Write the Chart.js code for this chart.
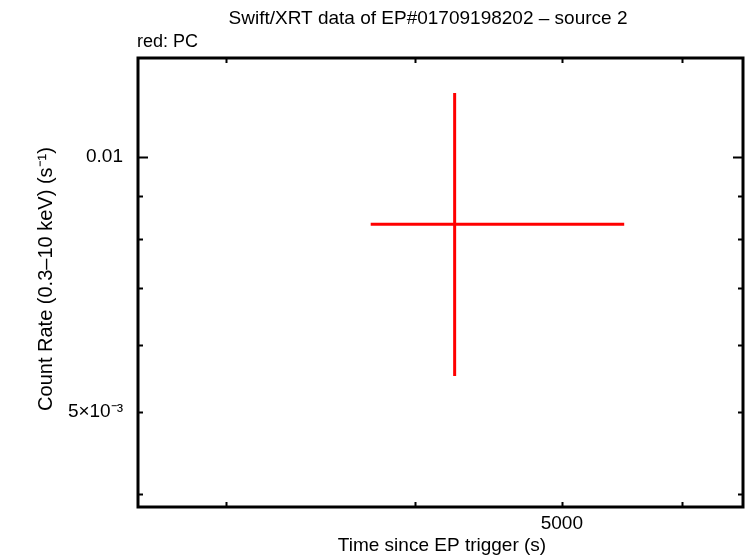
<!DOCTYPE html>
<html><head><meta charset="utf-8">
<script src="https://cdn.jsdelivr.net/npm/chart.js@4/dist/chart.umd.min.js"></script>
<style>html,body{margin:0;padding:0;background:#fff}#wrap{width:746px;height:558px}</style>
</head><body><div id="wrap"><canvas id="c" width="746" height="558"></canvas></div>
<script>
const titleText = 'Swift/XRT data of EP#01709198202 \u2013 source 2';
const subtitleText = 'red: PC';
const xTitle = 'Time since EP trigger (s)';
const yTitle = 'Count Rate (0.3\u201310 keV) (s\u207B\u00B9)';
const times = [4248];
const timeLo = [3739];
const timeHi = [5497];
const rates = [0.00833];
const rateLo = [0.005513];
const rateHi = [0.0119];
const xTickValues = [3000, 4000, 5000, 6000];
const xTickLabels = {5000: '5000'};
const yTickValues = [0.004, 0.005, 0.006, 0.007, 0.008, 0.009, 0.01];
const yTickLabels = {0.005: '5\u00D710\u207B\u00B3', 0.01: '0.01'};
const yMajorTicks = [0.01];
const xRange = [2625, 6585];
const yRange = [0.003862, 0.01309];

const FONT = '"Liberation Sans", Arial, Helvetica, sans-serif';
const RED = '#ff0000';

const datasets = [];
times.forEach((t, i) => {
  datasets.push({data: [{x: timeLo[i], y: rates[i]}, {x: timeHi[i], y: rates[i]}]});
  datasets.push({data: [{x: t, y: rateLo[i]}, {x: t, y: rateHi[i]}]});
});
datasets.forEach(d => Object.assign(d, {showLine: true, borderColor: RED, borderWidth: 3, pointRadius: 0, borderCapStyle: 'butt'}));

const framePlugin = {
  id: 'frame',
  afterDraw(chart) {
    const ctx = chart.ctx, a = chart.chartArea;
    const xs = chart.scales.x, ys = chart.scales.y;
    ctx.save();
    ctx.strokeStyle = '#000';
    ctx.lineWidth = 2;
    ctx.beginPath();
    xTickValues.forEach(v => {
      const px = Math.round(xs.getPixelForValue(v)) + 0.5;
      ctx.moveTo(px, a.bottom); ctx.lineTo(px, a.bottom - 5);
      ctx.moveTo(px, a.top); ctx.lineTo(px, a.top + 5);
    });
    yTickValues.forEach(v => {
      const py = Math.round(ys.getPixelForValue(v)) + 0.5;
      const len = yMajorTicks.includes(v) ? 10 : 5;
      ctx.moveTo(a.left, py); ctx.lineTo(a.left + len, py);
      ctx.moveTo(a.right, py); ctx.lineTo(a.right - len, py);
    });
    ctx.stroke();
    ctx.lineWidth = 3;
    ctx.strokeRect(a.left, a.top, a.right - a.left, a.bottom - a.top);
    ctx.fillStyle = '#000';
    ctx.font = '19px ' + FONT;
    ctx.textAlign = 'center';
    ctx.textBaseline = 'middle';
    ctx.fillText(titleText, 428, 19);
    ctx.fillText(xTitle, 442, 546);
    ctx.textAlign = 'left';
    ctx.font = '18px ' + FONT;
    ctx.fillText(subtitleText, 137, 42);
    ctx.translate(46, 279);
    ctx.rotate(-Math.PI / 2);
    ctx.textAlign = 'center';
    ctx.font = '20px ' + FONT;
    ctx.fillText(yTitle, 0, 0);
    ctx.restore();
  }
};

new Chart(document.getElementById('c'), {
  type: 'scatter',
  data: {datasets},
  options: {
    responsive: false,
    animation: false,
    events: [],
    layout: {padding: {top: 58, right: 3, left: 0, bottom: 0}},
    plugins: {legend: {display: false}, title: {display: false}, tooltip: {enabled: false}},
    scales: {
      x: {
        type: 'logarithmic', min: xRange[0], max: xRange[1],
        grid: {display: false, drawTicks: false}, border: {display: false},
        afterBuildTicks: s => { s.ticks = xTickValues.map(v => ({value: v})); },
        afterFit: s => { s.height = 51; },
        ticks: {autoSkip: false, maxRotation: 0, padding: 5, color: '#000', font: {family: FONT, size: 19},
          callback: v => xTickLabels[v] ?? ''}
      },
      y: {
        type: 'logarithmic', min: yRange[0], max: yRange[1],
        grid: {display: false, drawTicks: false}, border: {display: false},
        afterBuildTicks: s => { s.ticks = yTickValues.map(v => ({value: v})); },
        afterFit: s => { s.width = 138; },
        ticks: {autoSkip: false, padding: 15, color: '#000', font: {family: FONT, size: 19},
          callback: v => yTickLabels[v] ?? ''}
      }
    }
  },
  plugins: [framePlugin]
});
</script></body></html>
